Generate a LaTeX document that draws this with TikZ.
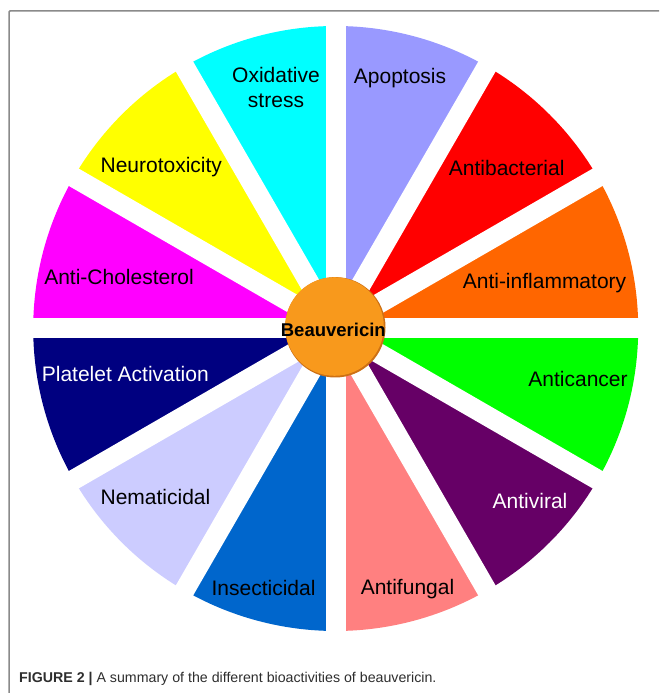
\documentclass[tikz,border=0pt]{standalone}
\usepackage{fontspec}
\setmainfont{Liberation Sans}
\usetikzlibrary{calc}
\definecolor{cApop}{HTML}{9999FF}
\definecolor{cBact}{HTML}{FF0000}
\definecolor{cInfl}{HTML}{FF6600}
\definecolor{cCanc}{HTML}{00FF00}
\definecolor{cViral}{HTML}{660066}
\definecolor{cFung}{HTML}{FF8080}
\definecolor{cInsect}{HTML}{0066CC}
\definecolor{cNema}{HTML}{CCCCFF}
\definecolor{cPlat}{HTML}{000080}
\definecolor{cChol}{HTML}{FF00FF}
\definecolor{cNeuro}{HTML}{FFFF00}
\definecolor{cOxi}{HTML}{00FFFF}
\definecolor{cBall}{RGB}{248,153,28}
\definecolor{cBallEdge}{RGB}{205,112,20}
\definecolor{cFrame}{HTML}{8A8A8A}
\definecolor{cCap}{HTML}{2E2E2E}
\tikzset{
  lab/.style={inner sep=0pt, font=\fontsize{21}{25}\selectfont, text=black},
  labw/.style={lab, text=white},
  gapline/.style={white, line width=20pt},
}
\begin{document}
\begin{tikzpicture}[x=1pt,y=1pt]
\useasboundingbox (0,0) rectangle (659,693);
\fill[white] (0,0) rectangle (659,693);
% pie
\coordinate (C) at (335.7,364.5);
\def\R{302.5}
\foreach \a/\c in {60/cApop,30/cBact,0/cInfl,-30/cCanc,-60/cViral,-90/cFung,-120/cInsect,-150/cNema,180/cPlat,150/cChol,120/cNeuro,90/cOxi}{
  \fill[\c] (C) -- ++(\a:\R) arc[start angle=\a, end angle=\a+30, radius=\R] -- cycle;
}
\foreach \a in {0,30,60,90,120,150}{
  \draw[gapline] ($(C)+(\a:308)$) -- ($(C)+(\a+180:308)$);
}
% frame
\draw[cFrame, line width=1.5pt, rounded corners=1pt] (9,0) -- (9,682) -- (659,682);
% labels
\node[lab, align=center] (oxi) at (276,605) {Oxidative\\stress};
\node[lab] (apop) at (400,615) {Apoptosis};
\node[lab] (bact) at (506.7,525) {Antibacterial};
\node[lab] (infl) at (544.5,410) {Anti-inflammatory};
\node[lab] (canc) at (578,314) {Anticancer};
\node[labw] (viral) at (530,192) {Antiviral};
\node[lab] (fung) at (407.5,104) {Antifungal};
\node[lab] (insect) at (263.5,105) {Insecticidal};
\node[lab] (nema) at (155.5,196) {Nematicidal};
\node[labw] (plat) at (125.3,319) {Platelet Activation};
\node[lab] (chol) at (119,416) {Anti-Cholesterol};
\node[lab] (neuro) at (161.3,526) {Neurotoxicity};
% centre ball
\fill[cBallEdge] (335.3,365.7) circle (50.2);
\fill[cBall] (334.5,366.5) circle (49.3);
\node[inner sep=0pt, font=\fontsize{18.5}{20}\selectfont\bfseries] (beau) at (333.3,363) {Beauvericin};
% caption
\node[anchor=base west, inner sep=0pt, text=cCap, font=\fontsize{14.2}{16}\selectfont] (cap) at (19,10.3) {\textbf{FIGURE 2 |} A summary of the different bioactivities of beauvericin.};
\end{tikzpicture}
\end{document}
